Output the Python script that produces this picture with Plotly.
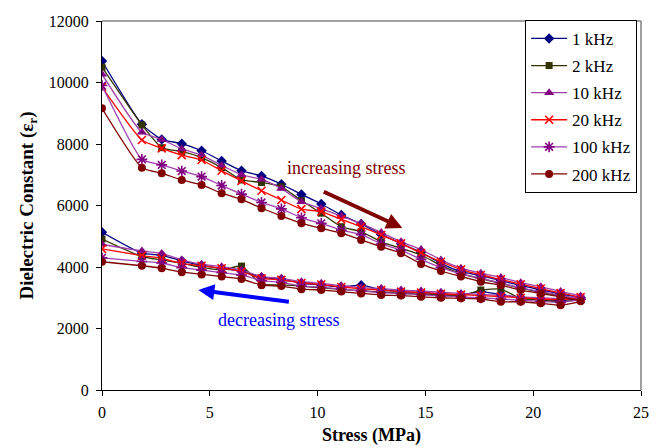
import plotly.graph_objects as go

# Stress (MPa) measurement points
stress = [0, 1.85, 2.77, 3.70, 4.62, 5.55, 6.47, 7.40, 8.32, 9.25, 10.17, 11.10,
          12.02, 12.95, 13.87, 14.80, 15.72, 16.65, 17.57, 18.50, 19.42, 20.35, 21.27, 22.20]
stress_dec = stress[:-1]  # return path (turning point shared)

series_names = ["1 kHz", "2 kHz", "10 kHz", "20 kHz", "100 kHz", "200 kHz"]

# increasing stress branch
inc_1k = [10700, 8640, 8150, 8010, 7780, 7450, 7130, 6960, 6690, 6360, 6050, 5690,
          5400, 5060, 4760, 4480, 4120, 3850, 3720, 3560, 3400, 3260, 3120, 3000]
inc_2k = [10500, 8620, 7880, 7750, 7560, 7230, 6830, 6750, 6610, 6160, 5750, 5310,
          5150, 4820, 4610, 4390, 4050, 3780, 3620, 3470, 3310, 3180, 3060, 2950]
inc_10k = [10270, 8380, 8150, 7840, 7640, 7300, 7000, 6850, 6550, 6120, 5900, 5650,
           5420, 5120, 4820, 4570, 4230, 3960, 3800, 3660, 3490, 3360, 3200, 3060]
inc_20k = [9850, 8130, 7860, 7640, 7480, 7130, 6800, 6480, 6180, 5880, 5800, 5550,
           5310, 5040, 4770, 4450, 4170, 3920, 3740, 3600, 3440, 3300, 3150, 3020]
inc_100k = [9900, 7500, 7320, 7120, 6940, 6650, 6370, 6100, 5890, 5600, 5420, 5200,
            5050, 4750, 4550, 4250, 3980, 3780, 3640, 3480, 3320, 3200, 3080, 2950]
inc_200k = [9160, 7230, 7050, 6830, 6670, 6400, 6200, 5910, 5660, 5420, 5260, 5100,
            4880, 4660, 4450, 4100, 3870, 3690, 3520, 3410, 3250, 3140, 3030, 2890]

# decreasing stress branch (listed at ascending stress, 0 .. 21.27)
dec_1k = [5130, 4450, 4380, 4200, 4050, 3950, 3870, 3660, 3600, 3470, 3420, 3350,
          3410, 3260, 3200, 3170, 3130, 3090, 3200, 3100, 3000, 2950, 2900]
dec_2k = [4910, 4340, 4230, 4120, 3990, 3900, 4030, 3440, 3420, 3380, 3320, 3270,
          3230, 3190, 3150, 3120, 3090, 3060, 3250, 3280, 2980, 2920, 2870]
dec_10k = [4740, 4520, 4440, 4230, 4090, 4010, 3900, 3690, 3630, 3520, 3470, 3390,
           3330, 3300, 3250, 3220, 3180, 3140, 3110, 3080, 3030, 3000, 2980]
dec_20k = [4590, 4370, 4280, 4120, 4040, 3960, 3850, 3630, 3580, 3480, 3430, 3350,
           3290, 3250, 3200, 3170, 3130, 3100, 3070, 3040, 3000, 2960, 2940]
dec_100k = [4300, 4180, 4130, 3980, 3900, 3820, 3740, 3560, 3500, 3380, 3340, 3280,
            3220, 3170, 3130, 3100, 3060, 3030, 3000, 2960, 2920, 2880, 2850]
dec_200k = [4170, 4040, 3960, 3830, 3760, 3690, 3610, 3410, 3380, 3280, 3250, 3200,
            3140, 3090, 3070, 3030, 3000, 2980, 2960, 2870, 2870, 2820, 2760]

inc_all = [inc_1k, inc_2k, inc_10k, inc_20k, inc_100k, inc_200k]
dec_all = [dec_1k, dec_2k, dec_10k, dec_20k, dec_100k, dec_200k]

x_ticks = [0, 5, 10, 15, 20, 25]
y_ticks = [0, 2000, 4000, 6000, 8000, 10000, 12000]
y_ticktext = ["0", "2000", "4000", "6000", "8000", "10000", "12000"]

line_colors = ["#000080", "#333300", "#a040a8", "#ff0000", "#a040b0", "#800000"]
marker_colors = ["#000080", "#333300", "#800080", "#ff0000", "#800080", "#800000"]
symbols = ["diamond", "square", "triangle-up", "x-thin-open", "asterisk-open", "circle"]
sizes = [8, 7, 9, 8, 9, 8]

FONT = "Liberation Serif"

fig = go.Figure()
for name, inc, dec, lc, mc, sym, sz in zip(series_names, inc_all, dec_all,
                                           line_colors, marker_colors, symbols, sizes):
    xs = stress + stress_dec[::-1]
    ys = inc + dec[::-1]
    open_sym = sym.endswith("-open")
    fig.add_trace(go.Scatter(
        x=xs, y=ys, name=name, mode="lines+markers", legendgroup=name,
        line=dict(color=lc, width=1.3, shape="spline", smoothing=0.5),
        marker=dict(symbol=sym, size=sz, color=mc,
                    line=dict(color=mc, width=1.6 if open_sym else 0)),
    ))

# the page adds an 8px body margin, so the figure is 652x440
fig.update_layout(
    width=652, height=440,
    margin=dict(l=94, r=19, t=13, b=58),
    paper_bgcolor="white", plot_bgcolor="white",
    font=dict(family=FONT, size=16, color="black"),
    showlegend=True,
    legend=dict(x=0.785, y=1.003, xanchor="left", yanchor="top",
                bgcolor="white", bordercolor="black", borderwidth=1,
                font=dict(family=FONT, size=17, color="black"),
                tracegroupgap=2, itemwidth=36),
    xaxis=dict(range=[0, 25], tickmode="array", tickvals=x_ticks, automargin=False,
               ticks="outside", ticklen=5, tickcolor="black", showgrid=False,
               zeroline=False, showline=True, linecolor="black", linewidth=1,
               tickfont=dict(family=FONT, size=16), ticklabelstandoff=3,
               title=dict(text="<b>Stress (MPa)</b>", font=dict(family=FONT, size=18), standoff=8)),
    yaxis=dict(range=[0, 12000], tickmode="array", automargin=False,
               tickvals=y_ticks, ticktext=y_ticktext,
               ticks="outside", ticklen=5, tickcolor="black", showgrid=False,
               zeroline=False, showline=True, linecolor="black", linewidth=1,
               tickfont=dict(family=FONT, size=16), ticklabelstandoff=4,
               title=dict(text="<b>Dielectric Constant (ε<sub>r</sub>)</b>",
                          font=dict(family=FONT, size=19), standoff=10)),
    shapes=[
        dict(type="line", xref="paper", yref="paper", x0=0, x1=1, y0=1, y1=1,
             line=dict(color="#808080", width=1.5)),
        dict(type="line", xref="paper", yref="paper", x0=1, x1=1, y0=0, y1=1,
             line=dict(color="#808080", width=1.5)),
    ],
    annotations=[
        dict(x=13.93, y=5268, ax=-80, ay=-37, xref="x", yref="y", text="",
             showarrow=True, arrowhead=2, arrowsize=0.8, arrowwidth=4, arrowcolor="#800000"),
        dict(x=11.34, y=7220, xref="x", yref="y", text="increasing stress", showarrow=False,
             font=dict(family=FONT, size=18, color="#800000")),
        dict(x=4.47, y=3252, ax=92, ay=12, xref="x", yref="y", text="",
             showarrow=True, arrowhead=2, arrowsize=0.8, arrowwidth=4, arrowcolor="#0000ff"),
        dict(x=8.18, y=2276, xref="x", yref="y", text="decreasing stress", showarrow=False,
             font=dict(family=FONT, size=18, color="#0000ff")),
    ],
)

fig.write_html("out.html")
